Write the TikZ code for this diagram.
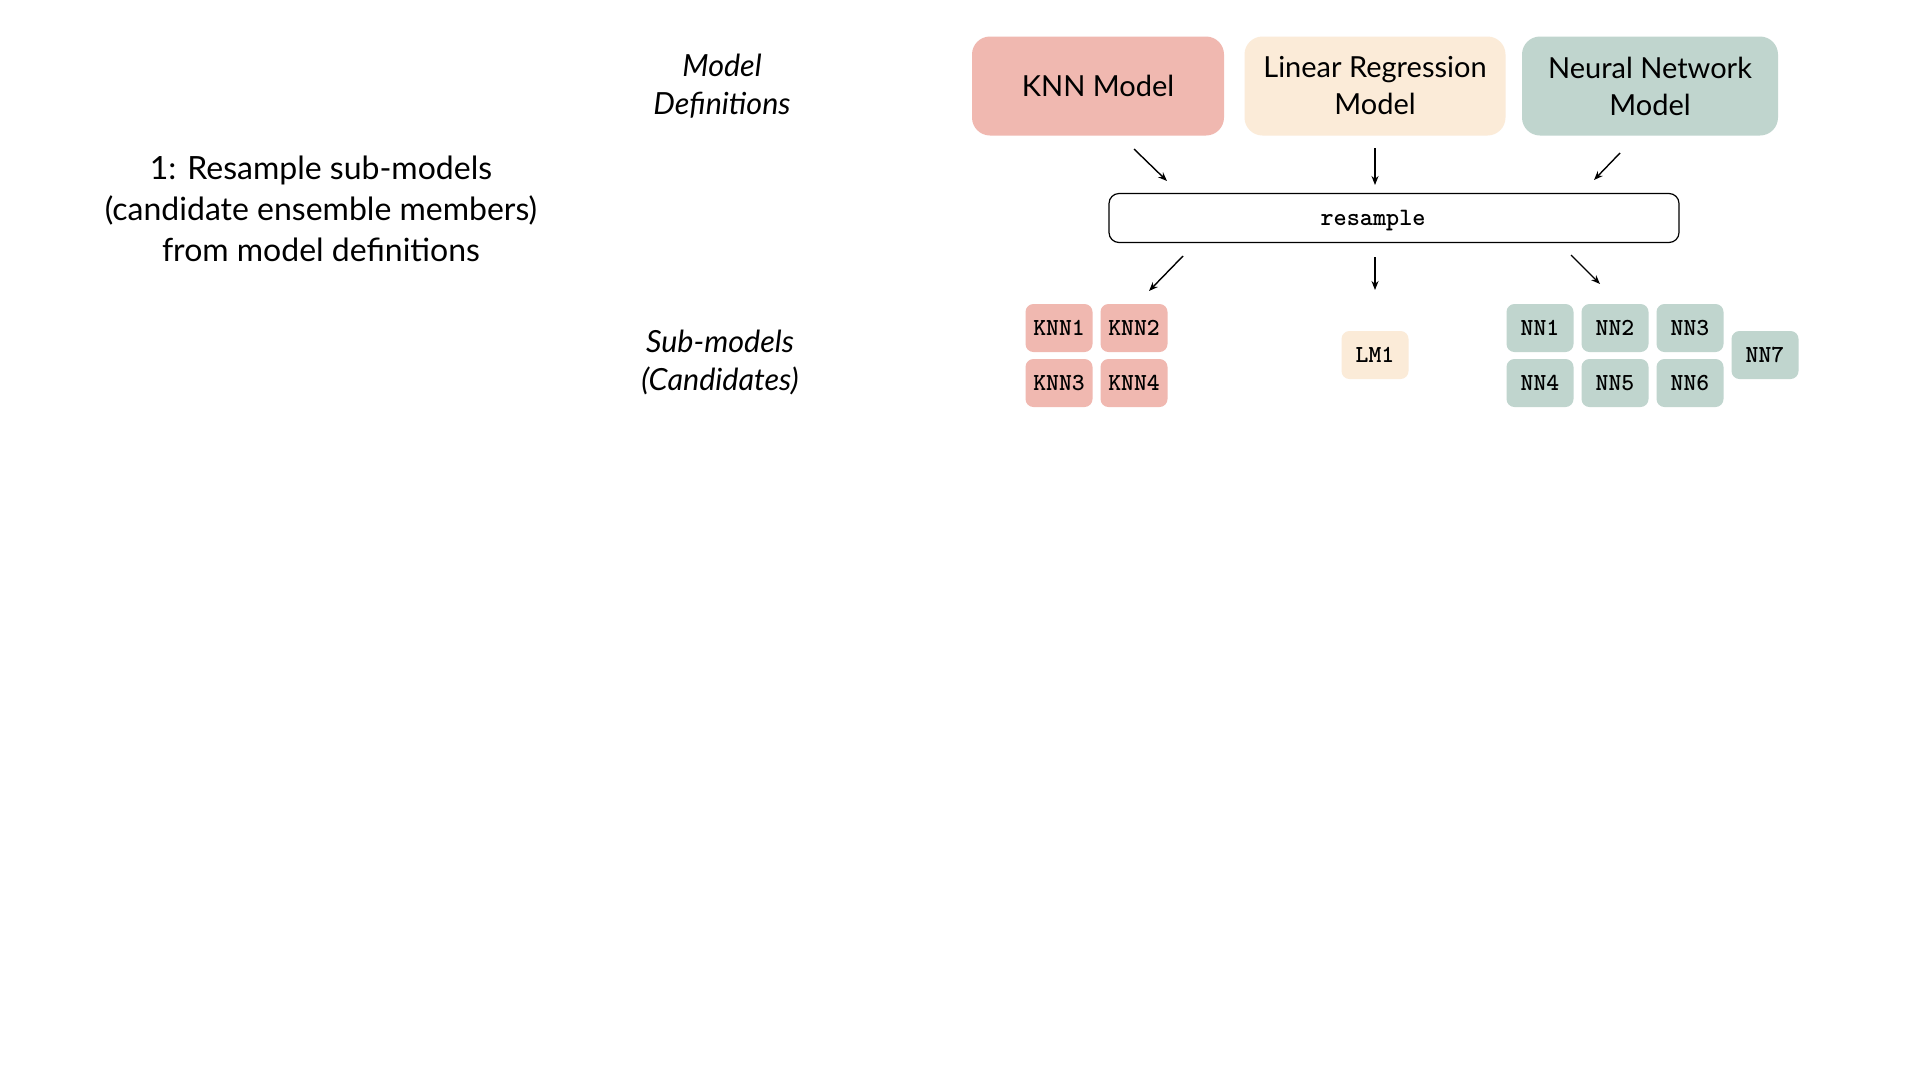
\documentclass[tikz,border=0pt]{standalone}
\usepackage{fontspec}
\setmainfont{Lato}
\usetikzlibrary{arrows.meta}
\definecolor{knnc}{RGB}{240,184,176}
\definecolor{lmc}{RGB}{251,235,216}
\definecolor{nnc}{RGB}{192,213,206}
\tikzset{
  bigbox/.style={rounded corners=18pt, minimum width=254pt, minimum height=99pt, inner sep=0pt, align=center, font=\fontsize{29}{37}\selectfont},
  resbox/.style={draw=black, line width=1.2pt, rounded corners=10pt, minimum width=570pt, minimum height=49pt, inner sep=0pt},
  codetext/.style={font=\ttfamily\bfseries\fontsize{25}{25}\selectfont},
  smallbox/.style={rounded corners=8pt, minimum width=67pt, minimum height=48pt, inner sep=0pt, font=\ttfamily\bfseries\fontsize{24.5}{24.5}\selectfont},
  sidelabel/.style={align=center, font=\itshape\fontsize{30.5}{38}\selectfont},
  arr/.style={-{Stealth[length=9pt,width=7pt]}, line width=1.4pt},
}
\begin{document}
\begin{tikzpicture}[x=1pt,y=-1pt]
\useasboundingbox[fill=white] (0,0) rectangle (1920,1080);

\node[align=center, font=\fontsize{32}{41}\selectfont] (title) at (321,209) {1: Resample sub-models\\(candidate ensemble members)\\from model definitions};

\node[sidelabel] (defs) at (722,86) {Model\\Definitions};
\node[sidelabel] (subs) at (720,362) {Sub-models\\(Candidates)};

\node[bigbox, fill=knnc, minimum width=252pt] (knn) at (1098,86) {KNN Model};
\node[bigbox, fill=lmc, minimum width=261pt] (lm) at (1375,86) {Linear Regression\\Model};
\node[bigbox, fill=nnc, minimum width=256pt] (nn) at (1650,86) {Neural Network\\Model};

\node[resbox] (res) at (1394,218) {};
\node[codetext] (restext) at (1373,221) {resample};

\node[smallbox, fill=knnc] (knn1) at (1059,328) {KNN1};
\node[smallbox, fill=knnc] (knn2) at (1134,328) {KNN2};
\node[smallbox, fill=knnc] (knn3) at (1059,383) {KNN3};
\node[smallbox, fill=knnc] (knn4) at (1134,383) {KNN4};

\node[smallbox, fill=lmc] (lm1) at (1375,355) {LM1};

\node[smallbox, fill=nnc] (nn1) at (1540,328) {NN1};
\node[smallbox, fill=nnc] (nn2) at (1615,328) {NN2};
\node[smallbox, fill=nnc] (nn3) at (1690,328) {NN3};
\node[smallbox, fill=nnc] (nn4) at (1540,383) {NN4};
\node[smallbox, fill=nnc] (nn5) at (1615,383) {NN5};
\node[smallbox, fill=nnc] (nn6) at (1690,383) {NN6};
\node[smallbox, fill=nnc] (nn7) at (1765,355) {NN7};

\coordinate (a1s) at (1134,149); \coordinate (a1e) at (1167,181);
\coordinate (a2s) at (1375,148); \coordinate (a2e) at (1375,185);
\coordinate (a3s) at (1620,153); \coordinate (a3e) at (1594,180);
\coordinate (b1s) at (1183,256); \coordinate (b1e) at (1149,291);
\coordinate (b2s) at (1375,257); \coordinate (b2e) at (1375,290);
\coordinate (b3s) at (1571,255); \coordinate (b3e) at (1600,284);

\draw[arr] (a1s) -- (a1e);
\draw[arr] (a2s) -- (a2e);
\draw[arr] (a3s) -- (a3e);
\draw[arr] (b1s) -- (b1e);
\draw[arr] (b2s) -- (b2e);
\draw[arr] (b3s) -- (b3e);
\end{tikzpicture}
\end{document}
